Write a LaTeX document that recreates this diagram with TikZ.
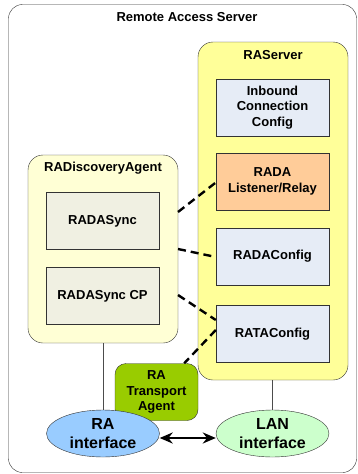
\documentclass[tikz,border=0pt]{standalone}
\usepackage{fontspec}
\setmainfont{Liberation Sans}
\usetikzlibrary{arrows.meta,shapes.geometric}
\definecolor{giallo}{HTML}{FFFF99}
\definecolor{giallino}{HTML}{FFFFD5}
\definecolor{azzurrino}{HTML}{E6ECF6}
\definecolor{arancio}{HTML}{FFCC99}
\definecolor{grigino}{HTML}{F0F0E2}
\definecolor{verde}{HTML}{99CC00}
\definecolor{celeste}{HTML}{99CCFF}
\definecolor{verdino}{HTML}{CCFFCC}
\tikzset{
>=Stealth,
box/.style={draw=black!80,thin,minimum width=113pt,minimum height=57pt,align=center,inner sep=1pt,font=\bfseries\fontsize{13}{15.5}\selectfont},
contenitore/.style={draw=black!80,thin,rounded corners=15pt},
iface/.style={ellipse,draw=black!80,thin,minimum width=113pt,minimum height=47pt,align=center,font=\bfseries\fontsize{16}{19.5}\selectfont,inner sep=0pt},
tratteggio/.style={line width=2.4pt,dash pattern=on 8pt off 5pt},
titolo/.style={font=\bfseries\fontsize{13}{15}\selectfont}}

\begin{document}
\begin{tikzpicture}[x=1pt,y=-1pt]

\useasboundingbox (0,0) rectangle (357,474);
\draw[black!80,rounded corners=14pt] (8.5,4.5) rectangle (356.5,472.5);
\node[titolo] (ras) at (187,17) {Remote Access Server};

\draw[contenitore,fill=giallo] (198,42) rectangle (348,380);
\node[titolo] (raserver) at (273,55) {RAServer};
\draw[contenitore,fill=giallino] (28,155) rectangle (178,343);
\node[titolo] (agent) at (103,168) {RADiscoveryAgent};

\node[box,fill=azzurrino] (inbound) at (272.5,107.5) {Inbound\\Connection\\Config};
\node[box,fill=arancio] (relay) at (272.5,181.5) {RADA\\Listener/Relay};
\node[box,fill=azzurrino] (radaconf) at (272.5,256.5) {RADAConfig};
\node[box,fill=azzurrino] (rataconf) at (272.5,334) {RATAConfig};
\node[box,fill=grigino] (sync) at (102.5,221) {RADASync};
\node[box,fill=grigino] (synccp) at (102.5,296) {RADASync CP};

\node[draw=black!80,thin,fill=verde,rounded corners=11pt,minimum width=83pt,minimum height=57pt,align=center,inner sep=1pt,
      font=\bfseries\fontsize{13}{15.5}\selectfont] (rata) at (156.5,392) {RA\\Transport\\Agent};
\node[iface,fill=celeste] (raif) at (103,433.5) {RA\\interface};
\node[iface,fill=verdino] (lanif) at (272.5,433.5) {LAN\\interface};

\coordinate (a1) at (178,212);
\coordinate (a2) at (178,249);
\coordinate (a3) at (178,295);
\path[tratteggio]
	(a1) edge ([yshift=-1pt]relay.west)
	(a2) edge ([yshift=-0.5pt]radaconf.west)
	(a3) edge ([yshift=14pt]rataconf.west)
	([yshift=4pt]rataconf.west) edge ([xshift=-14pt]rata.north east);

\draw[black!70] (103,343) -- (raif.north);
\draw[black!70] (272.5,380) -- (lanif.north);
\draw[<->,line width=2.4pt,>={Stealth[length=13pt,width=11pt]}] ([yshift=-4.5pt]raif.east) -- ([yshift=-4.5pt]lanif.west);
\end{tikzpicture}
\end{document}
